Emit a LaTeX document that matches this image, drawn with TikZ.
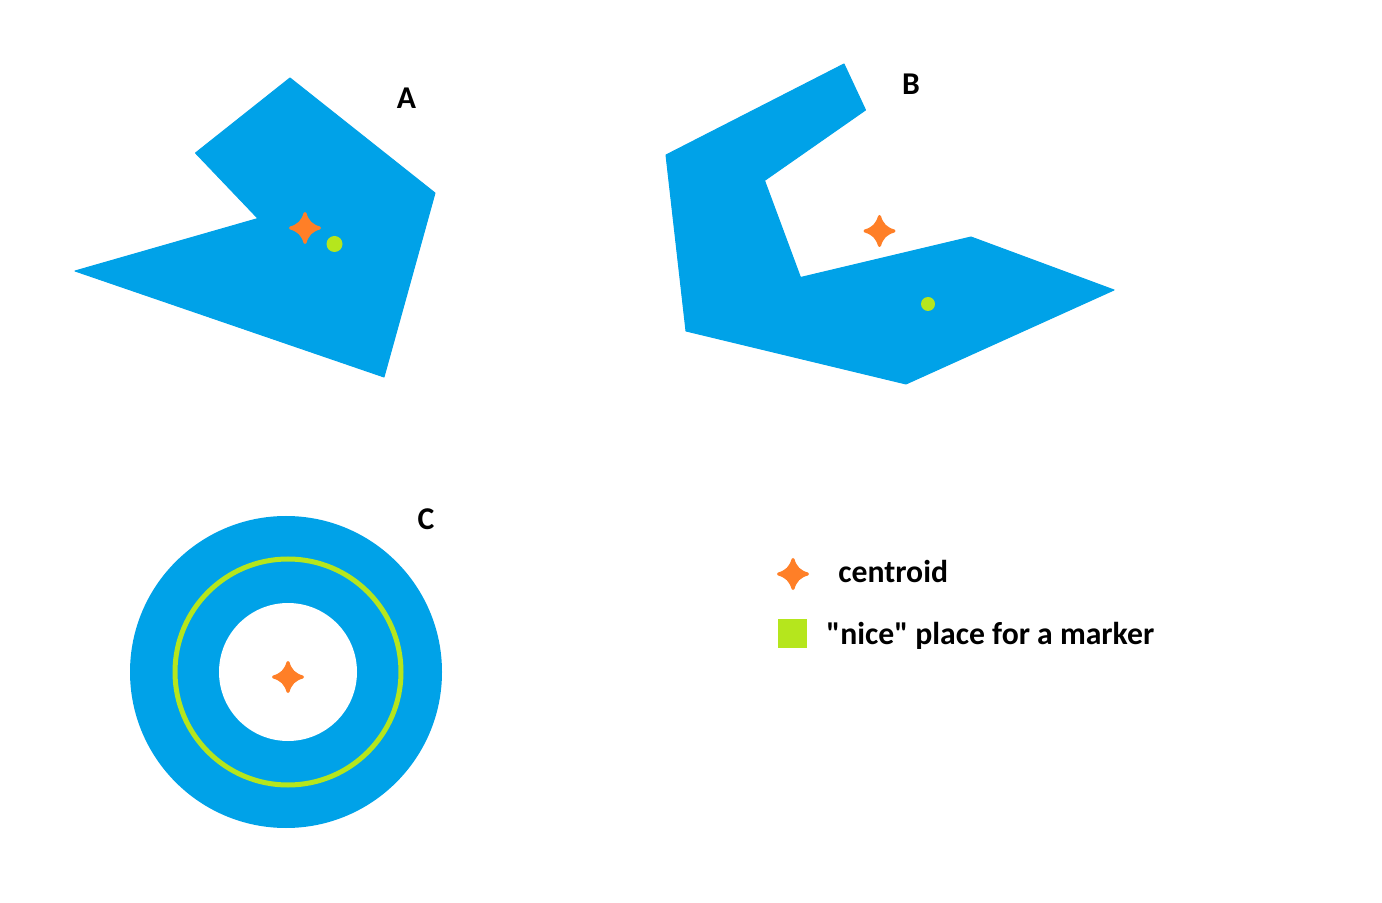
\documentclass[tikz,border=0pt]{standalone}
\usepackage{fontspec}
\setmainfont[Ligatures=TeXOff]{Carlito}
\definecolor{blueshape}{HTML}{00A2E8}
\definecolor{orangestar}{HTML}{FF7F27}
\definecolor{limemark}{HTML}{B5E61D}
\tikzset{
  shapefill/.style={fill=blueshape,draw=blueshape,line width=0.5pt,line join=round},
  nicedot/.style={fill=limemark,draw=none},
  lab/.style={font=\bfseries\fontsize{15.85}{19}\selectfont,text=black,inner sep=0pt},
  legendlab/.style={lab,anchor=base west},
  star/.pic={\fill[orangestar,line join=round,draw=orangestar,line width=1.5pt]
    (-#1,0) .. controls (-0.45*#1,-0.16*#1) and (-0.16*#1,-0.45*#1) .. (0,-#1)
    .. controls (0.16*#1,-0.45*#1) and (0.45*#1,-0.16*#1) .. (#1,0)
    .. controls (0.45*#1,0.16*#1) and (0.16*#1,0.45*#1) .. (0,#1)
    .. controls (-0.16*#1,0.45*#1) and (-0.45*#1,0.16*#1) .. cycle;}
}
\begin{document}
\begin{tikzpicture}[x=0.5pt,y=-0.5pt]
\useasboundingbox (0,0) rectangle (1382,903);
\fill[white] (0,0) rectangle (1382,903);
% A
\path[shapefill] (290,78) -- (435,193) -- (384,377) -- (75,271) -- (258,218.5) -- (195.5,153) -- cycle;
\pic at (305,228) {star=14.5};
\fill[nicedot] (334.5,244) circle (8);
\node[lab] (A) at (406.5,98.5) {A};
% B
\path[shapefill] (844,64) -- (865.5,110) -- (764.5,180.5) -- (800.5,277.5) -- (971,237) -- (1114,290) -- (906,384) -- (686,331) -- (666,155) -- cycle;
\pic at (879.5,231) {star=14.5};
\fill[nicedot] (928,304) circle (7);
\node[lab] (B) at (911,84.5) {B};
% C
\fill[blueshape] (286,672) circle (156);
\fill[white] (288,672) circle (69);
\draw[limemark,line width=2.5pt] (288,672) circle (113);
\pic at (288,677) {star=14.5};
\node[lab] (C) at (426,519.5) {C};
% legend
\pic at (793,574) {star=14.5};
\node[legendlab] (l1) at (838,582) {centroid};
\fill[limemark] (778,619) rectangle (807,648);
\node[legendlab] (l2) at (826,644) {"nice" place for a marker};
\end{tikzpicture}
\end{document}
